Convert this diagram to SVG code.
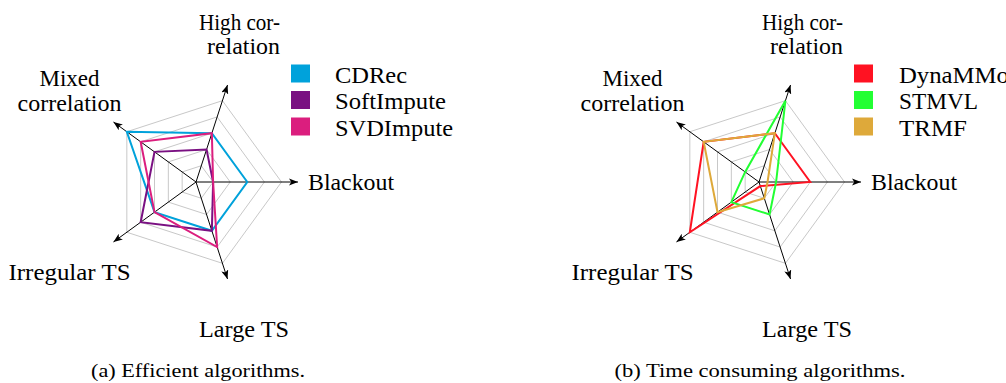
<svg xmlns="http://www.w3.org/2000/svg" width="1006" height="383" viewBox="0 0 1006 383">
<style>
text{font-family:"Liberation Serif","DejaVu Serif","Times New Roman",serif;fill:#000}
.lab{font-size:23.5px}
.cap{font-size:19.5px}
.ring{fill:none;stroke:#c8c8c8;stroke-width:1}
.axis{fill:none;stroke:#000;stroke-width:1;marker-end:url(#arr)}
.ser{fill:none;stroke-width:2;stroke-linejoin:miter}
</style>
<defs>
<marker id="arr" viewBox="0 0 10 8" refX="10" refY="4" markerWidth="9" markerHeight="7.2" markerUnits="userSpaceOnUse" orient="auto">
<path d="M0,0 L10,4 L0,8 L2.5,4 z" fill="#000"/>
</marker>
<g id="grid">
<polygon class="ring" points="17.1,0 5.28,-16.26 -13.83,-10.05 -13.83,10.05 5.28,16.26"/>
<polygon class="ring" points="34.2,0 10.57,-32.53 -27.67,-20.1 -27.67,20.1 10.57,32.53"/>
<polygon class="ring" points="51.3,0 15.85,-48.79 -41.5,-30.15 -41.5,30.15 15.85,48.79"/>
<polygon class="ring" points="68.4,0 21.14,-65.05 -55.34,-40.2 -55.34,40.2 21.14,65.05"/>
<polygon class="ring" points="85.5,0 26.42,-81.32 -69.17,-50.26 -69.17,50.26 26.42,81.32"/>
<line class="axis" x1="0" y1="0" x2="102" y2="0"/>
<line class="axis" x1="0" y1="0" x2="31.52" y2="-97.01"/>
<line class="axis" x1="0" y1="0" x2="-82.52" y2="-59.95"/>
<line class="axis" x1="0" y1="0" x2="-82.52" y2="59.95"/>
<line class="axis" x1="0" y1="0" x2="31.52" y2="97.01"/>
</g>
</defs>

<g id="chart-a" transform="translate(196,182)">
<use href="#grid"/>
<g id="series-a">
<polygon id="cdrec" class="ser" stroke="#00a2db" points="51.3,0 15.85,-48.79 -69.17,-50.26 -41.5,30.15 15.85,48.79"/>
<polygon id="softimpute" class="ser" stroke="#7a1082" points="17.1,0 10.57,-32.53 -41.5,-30.15 -55.34,40.2 15.85,48.79"/>
<polygon id="svdimpute" class="ser" stroke="#db1e7e" points="17.1,0 15.85,-48.79 -55.34,-40.2 -41.5,30.15 21.14,65.05"/>
</g>
</g>

<g id="chart-b" transform="translate(759,182)">
<use href="#grid"/>
<g id="series-b">
<polygon id="dynammo" class="ser" stroke="#ff1222" points="51.3,0 15.85,-48.79 -55.34,-40.2 -69.17,50.26 1.32,4.07"/>
<polygon id="stmvl" class="ser" stroke="#22ff33" points="17.1,0 26.42,-81.32 -13.83,-10.05 -27.67,20.1 10.57,32.53"/>
<polygon id="trmf" class="ser" stroke="#dea93a" points="8.55,0 15.85,-48.79 -55.34,-40.2 -41.5,30.15 5.28,16.26"/>
</g>
</g>

<g id="labels-a">
<text class="lab" x="199" y="29.5" textLength="81" lengthAdjust="spacingAndGlyphs">High cor-</text>
<text class="lab" x="207" y="54" textLength="73" lengthAdjust="spacingAndGlyphs">relation</text>
<text class="lab" x="39.5" y="86" textLength="60" lengthAdjust="spacingAndGlyphs">Mixed</text>
<text class="lab" x="17.5" y="111" textLength="104" lengthAdjust="spacingAndGlyphs">correlation</text>
<text class="lab" x="308" y="189.5" textLength="86" lengthAdjust="spacingAndGlyphs">Blackout</text>
<text class="lab" x="8.5" y="280" textLength="122" lengthAdjust="spacingAndGlyphs">Irregular TS</text>
<text class="lab" x="199" y="336.5" textLength="90" lengthAdjust="spacingAndGlyphs">Large TS</text>
<text class="cap" x="91" y="377" textLength="214" lengthAdjust="spacingAndGlyphs">(a) Efficient algorithms.</text>
</g>

<g id="legend-a">
<rect x="291" y="64.5" width="19" height="18" fill="#00a2db"/>
<rect x="291" y="91" width="19" height="18" fill="#7a1082"/>
<rect x="291" y="117.5" width="19" height="18" fill="#db1e7e"/>
<text class="lab" x="335" y="82.5" textLength="72" lengthAdjust="spacingAndGlyphs">CDRec</text>
<text class="lab" x="335" y="109" textLength="111" lengthAdjust="spacingAndGlyphs">SoftImpute</text>
<text class="lab" x="335" y="135.5" textLength="118" lengthAdjust="spacingAndGlyphs">SVDImpute</text>
</g>

<g id="labels-b">
<text class="lab" x="762" y="29.5" textLength="81" lengthAdjust="spacingAndGlyphs">High cor-</text>
<text class="lab" x="770" y="54" textLength="73" lengthAdjust="spacingAndGlyphs">relation</text>
<text class="lab" x="602.5" y="86" textLength="60" lengthAdjust="spacingAndGlyphs">Mixed</text>
<text class="lab" x="580.5" y="111" textLength="104" lengthAdjust="spacingAndGlyphs">correlation</text>
<text class="lab" x="871" y="189.5" textLength="86" lengthAdjust="spacingAndGlyphs">Blackout</text>
<text class="lab" x="571.5" y="280" textLength="122" lengthAdjust="spacingAndGlyphs">Irregular TS</text>
<text class="lab" x="762" y="336.5" textLength="90" lengthAdjust="spacingAndGlyphs">Large TS</text>
<text class="cap" x="614.5" y="377" textLength="291" lengthAdjust="spacingAndGlyphs">(b) Time consuming algorithms.</text>
</g>

<g id="legend-b">
<rect x="854" y="64.5" width="19" height="18" fill="#ff1222"/>
<rect x="854" y="91" width="19" height="18" fill="#22ff33"/>
<rect x="854" y="117.5" width="19" height="18" fill="#dea93a"/>
<text class="lab" x="899" y="82.5" textLength="110" lengthAdjust="spacingAndGlyphs">DynaMMo</text>
<text class="lab" x="899" y="109" textLength="79" lengthAdjust="spacingAndGlyphs">STMVL</text>
<text class="lab" x="899" y="135.5" textLength="68" lengthAdjust="spacingAndGlyphs">TRMF</text>
</g>
</svg>
